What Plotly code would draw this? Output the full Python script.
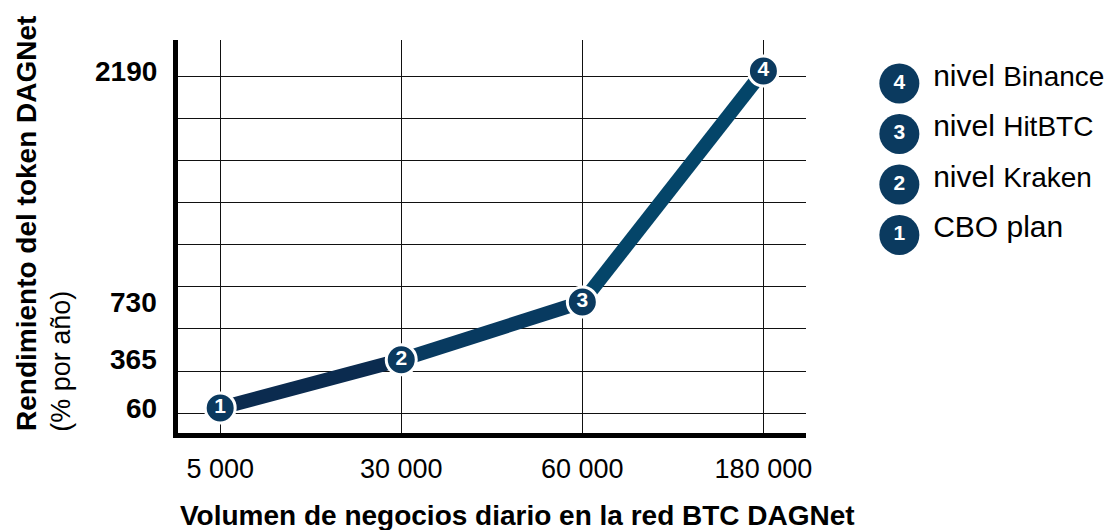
import plotly.graph_objects as go

# ---- data ----
volumes = ["5 000", "30 000", "60 000", "180 000"]
returns = [60, 365, 730, 2190]
levels = ["1", "2", "3", "4"]
y_tick_vals = [60, 365, 730, 2190]
y_tick_text = ["60", "365", "730", "2190"]
legend_prefix = ["", "nivel", "nivel", "nivel"]
legend_names = ["CBO plan", "Kraken", "HitBTC", "Binance"]
x_title = "Volumen de negocios diario en la red BTC DAGNet"
y_title_1 = "Rendimiento del token DAGNet"
y_title_2 = "(% por año)"

# ---- layout constants (page has an 8px body margin) ----
OFF = 8
W, H = 1115 - OFF, 530 - OFF
ML, MT, MB, MR = 178 - OFF, 40 - OFF, 97, 0
PW = W - ML - MR
PH = H - MT - MB
MAIN_W = 632
FONT = "Liberation Sans, Arial, sans-serif"
MARK = "#0b3a5f"
SEG_COLORS = ["#0b2b4f", "#083a60", "#044569"]


def px_x(p):  # reference-image pixel -> paper
    return (p - (ML + OFF)) / PW


def px_y(p):
    return (MT + OFF + PH - p) / PH


fig = go.Figure()

# line segments (shaded like a gradient)
for i in range(len(volumes) - 1):
    fig.add_trace(go.Scatter(
        x=volumes[i:i + 2], y=returns[i:i + 2], mode="lines",
        line=dict(color=SEG_COLORS[i], width=14),
        showlegend=False, hoverinfo="skip", cliponaxis=False))

# numbered markers
fig.add_trace(go.Scatter(
    x=volumes, y=returns, mode="markers+text",
    text=["<b>%s</b>" % s for s in levels], textposition="middle center",
    textfont=dict(family=FONT, size=21, color="white"),
    marker=dict(size=30, color=MARK, line=dict(color="white", width=3)),
    showlegend=False, hoverinfo="skip", cliponaxis=False))

# custom legend on an overlay axis
idx = list(range(len(levels)))
fig.add_trace(go.Scatter(
    x=[44] * len(levels), y=idx, xaxis="x2", yaxis="y2", mode="markers+text",
    text=["<b>%s</b>" % s for s in levels], textposition="middle center",
    textfont=dict(family=FONT, size=21, color="white"),
    marker=dict(size=40, color=MARK),
    showlegend=False, hoverinfo="skip", cliponaxis=False))

leg_text = []
for pre, name in zip(legend_prefix, legend_names):
    if pre:
        leg_text.append("%s <span style='font-size:28px'>%s</span>" % (pre, name))
    else:
        leg_text.append("<span style='font-size:30px'>%s</span>" % name)
fig.add_trace(go.Scatter(
    x=[78] * len(levels), y=[i + 0.1 for i in idx], xaxis="x2", yaxis="y2", mode="text",
    text=leg_text, textposition="middle right",
    textfont=dict(family=FONT, size=30, color="black"),
    showlegend=False, hoverinfo="skip", cliponaxis=False))

annotations = [
    dict(text="<b>%s</b>" % x_title, x=px_x(520), y=px_y(515), xref="paper", yref="paper",
         showarrow=False, xanchor="center", yanchor="middle",
         font=dict(family=FONT, size=28, color="black")),
    dict(text="<b>%s</b>" % y_title_1, x=px_x(25), y=px_y(223), xref="paper", yref="paper",
         showarrow=False, xanchor="center", yanchor="middle", textangle=-90,
         font=dict(family=FONT, size=28, color="black")),
    dict(text=y_title_2, x=px_x(60), y=px_y(361), xref="paper", yref="paper",
         showarrow=False, xanchor="center", yanchor="middle", textangle=-90,
         font=dict(family=FONT, size=27, color="black")),
]
# y tick labels placed through the y scale
for v, t in zip(y_tick_vals, y_tick_text):
    annotations.append(dict(
        text="<b>%s</b>" % t, x=px_x(159), y=v, xref="paper", yref="y",
        showarrow=False, xanchor="right", yanchor="middle",
        font=dict(family=FONT, size=28, color="black")))

fig.update_layout(
    width=W, height=H, autosize=False,
    margin=dict(l=ML, r=MR, t=MT, b=MB, pad=0),
    paper_bgcolor="white", plot_bgcolor="white",
    font=dict(family=FONT, color="black"),
    showlegend=False,
    xaxis=dict(
        type="category", domain=[0, MAIN_W / PW], range=[-0.233, 3.235],
        showgrid=True, gridcolor="#111111", gridwidth=1,
        showline=True, linecolor="black", linewidth=5,
        ticks="", ticklabelstandoff=8,
        tickfont=dict(family=FONT, size=27, color="black"),
        zeroline=False, fixedrange=True),
    yaxis=dict(
        range=[-98, 2386], tick0=28.4, dtick=265.5,
        showgrid=True, gridcolor="#111111", gridwidth=1, zeroline=False,
        showline=True, linecolor="black", linewidth=5,
        ticks="", showticklabels=False,
        fixedrange=True),
    xaxis2=dict(domain=[px_x(860), 1], range=[0, 255], visible=False, anchor="y2"),
    yaxis2=dict(domain=[0, 1], range=[-3.92, 3.86], visible=False, anchor="x2"),
    annotations=annotations,
)

fig.write_html("out.html")
